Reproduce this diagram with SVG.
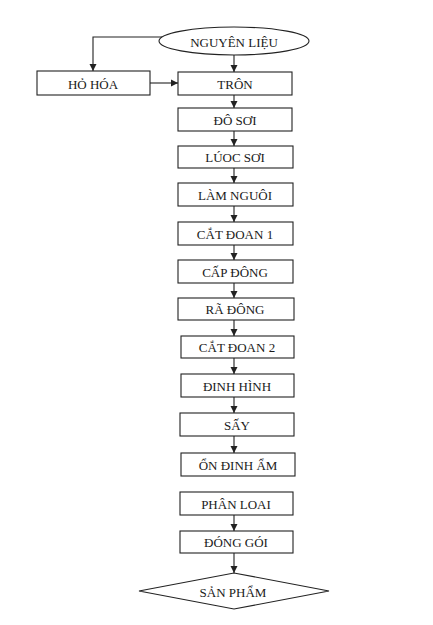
<svg xmlns="http://www.w3.org/2000/svg" width="433" height="625" viewBox="0 0 433 625">
<style>
.n{fill:#fff;stroke:#222;stroke-width:1.1}
.t{font-family:"Liberation Serif","Times New Roman",serif;font-size:13px;fill:#1a1a1a;text-anchor:middle;dominant-baseline:central}
.c{fill:none;stroke:#222;stroke-width:1.1}
</style>
<defs>
<marker id="ah" markerUnits="userSpaceOnUse" markerWidth="7" markerHeight="8" refX="7" refY="4" orient="auto">
<path d="M0,0.5 L7,4 L0,7.5 Z" fill="#222"/>
</marker>
</defs>
<rect width="433" height="625" fill="#fff"/>
<g id="connectors">
<polyline class="c" points="162,37 93,37 93,71" marker-end="url(#ah)"/>
<line class="c" x1="234" y1="55" x2="234" y2="72" marker-end="url(#ah)"/>
<line class="c" x1="150" y1="83" x2="178" y2="83" marker-end="url(#ah)"/>
<line class="c" x1="234" y1="95" x2="234" y2="108" marker-end="url(#ah)"/>
<line class="c" x1="234" y1="131" x2="234" y2="146" marker-end="url(#ah)"/>
<line class="c" x1="234" y1="168" x2="234" y2="183" marker-end="url(#ah)"/>
<line class="c" x1="234" y1="206" x2="234" y2="222" marker-end="url(#ah)"/>
<line class="c" x1="234" y1="245" x2="234" y2="260" marker-end="url(#ah)"/>
<line class="c" x1="234" y1="283" x2="234" y2="298" marker-end="url(#ah)"/>
<line class="c" x1="234" y1="320" x2="234" y2="336" marker-end="url(#ah)"/>
<line class="c" x1="234" y1="358" x2="234" y2="374" marker-end="url(#ah)"/>
<line class="c" x1="234" y1="397" x2="234" y2="413" marker-end="url(#ah)"/>
<line class="c" x1="234" y1="436" x2="234" y2="453" marker-end="url(#ah)"/>
<line class="c" x1="234" y1="515" x2="234" y2="531" marker-end="url(#ah)"/>
<line class="c" x1="234" y1="553" x2="234" y2="573" marker-end="url(#ah)"/>
</g>
<g id="n-nguyenlieu"><ellipse class="n" cx="234" cy="41" rx="75" ry="14"/><text class="t" x="234" y="42">NGUYÊN LIỆU</text></g>
<g id="n-hohoa"><rect class="n" x="37" y="71" width="113" height="24"/><text class="t" x="93" y="84">HỎ HÓA</text></g>
<g id="n-tron"><rect class="n" x="178" y="72" width="114" height="23"/><text class="t" x="235" y="84">TRÔN</text></g>
<g id="n-dosoi"><rect class="n" x="178" y="108" width="114" height="23"/><text class="t" x="235" y="120">ĐÔ SƠI</text></g>
<g id="n-luocsoi"><rect class="n" x="178" y="146" width="115" height="22"/><text class="t" x="235" y="157">LÚOC SƠI</text></g>
<g id="n-lamnguoi"><rect class="n" x="178" y="183" width="115" height="23"/><text class="t" x="235" y="195">LÀM NGUÔI</text></g>
<g id="n-catdoan1"><rect class="n" x="178" y="222" width="115" height="23"/><text class="t" x="235" y="234">CẮT ĐOAN 1</text></g>
<g id="n-capdong"><rect class="n" x="178" y="260" width="115" height="23"/><text class="t" x="235" y="272">CẤP ĐÔNG</text></g>
<g id="n-radong"><rect class="n" x="178" y="298" width="116" height="22"/><text class="t" x="235" y="309">RÃ ĐÔNG</text></g>
<g id="n-catdoan2"><rect class="n" x="181" y="336" width="113" height="22"/><text class="t" x="237" y="347">CẮT ĐOAN 2</text></g>
<g id="n-dinhhinh"><rect class="n" x="181" y="374" width="113" height="23"/><text class="t" x="237" y="386">ĐINH HÌNH</text></g>
<g id="n-say"><rect class="n" x="180" y="413" width="114" height="23"/><text class="t" x="237" y="425">SẤY</text></g>
<g id="n-ondinham"><rect class="n" x="181" y="453" width="114" height="23"/><text class="t" x="238" y="465">ỔN ĐINH ẨM</text></g>
<g id="n-phanloai"><rect class="n" x="180" y="492" width="113" height="23"/><text class="t" x="236" y="504">PHÂN LOAI</text></g>
<g id="n-donggoi"><rect class="n" x="180" y="531" width="113" height="22"/><text class="t" x="236" y="542">ĐÓNG GÓI</text></g>
<g id="n-sanpham"><polygon class="n" points="139,591 234,573 329,591 234,609"/><text class="t" x="233" y="592">SẢN PHẨM</text></g>
</svg>
